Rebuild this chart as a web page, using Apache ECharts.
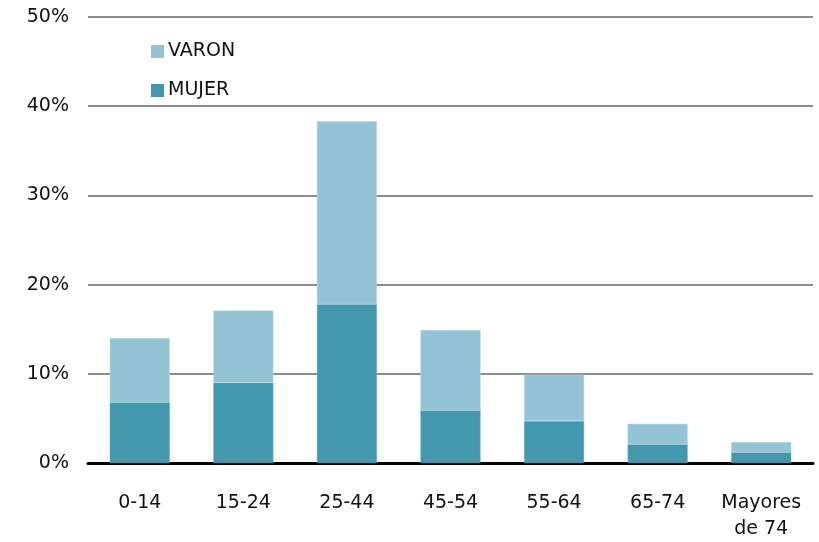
<!DOCTYPE html>
<html>
<head>
<meta charset="utf-8">
<script src="https://cdn.jsdelivr.net/npm/echarts@6/dist/echarts.min.js"></script>
<style>
html, body { margin: 0; padding: 0; background: #fff; }
#chart { width: 819px; height: 542px; }
</style>
</head>
<body>
<div id="chart"></div>
<script>
var categories = ["0-14", "15-24", "25-44", "45-54", "55-64", "65-74", "Mayores\nde 74"];
var mujer = [6.8, 9.0, 17.8, 5.9, 4.7, 2.1, 1.2];
var varon = [7.2, 8.1, 20.5, 9.0, 5.2, 2.3, 1.15];

var chart = echarts.init(document.getElementById("chart"));
var font = "DejaVu Sans, Verdana, sans-serif";
var option = {
    backgroundColor: "#fff",
    animation: false,
    grid: { left: 88, right: 6, top: 17, bottom: 78 },
    legend: {
        orient: "vertical",
        left: 146,
        top: 37,
        itemWidth: 13,
        itemHeight: 13,
        itemGap: 20,
        icon: "rect",
        data: ["VARON", "MUJER"],
        itemStyle: { borderWidth: 0 },
        textStyle: { fontFamily: font, fontSize: 19, color: "#111", padding: [0, 0, 0, -1] }
    },
    xAxis: {
        type: "category",
        data: categories,
        axisLine: { lineStyle: { color: "#000", width: 3 } },
        axisTick: { show: false },
        axisLabel: { interval: 0, fontFamily: font, fontSize: 19, color: "#111", margin: 27, lineHeight: 26 }
    },
    yAxis: {
        type: "value",
        min: 0,
        max: 50,
        interval: 10,
        axisLine: { show: false },
        axisTick: { show: false },
        splitLine: { lineStyle: { color: "#8c8c8c", width: 2 } },
        axisLabel: { fontFamily: font, fontSize: 19, color: "#111", margin: 19, formatter: "{value}%" }
    },
    series: [
        {
            name: "MUJER",
            type: "bar",
            stack: "t",
            barWidth: "58%",
            data: mujer,
            itemStyle: { color: "#4398b0", borderColor: "#6fb1c4", borderWidth: 0.5 }
        },
        {
            name: "VARON",
            type: "bar",
            stack: "t",
            data: varon,
            itemStyle: { color: "#94c3d5", borderColor: "#b9dae5", borderWidth: 0.5 }
        }
    ]
};
chart.setOption(option);
</script>
</body>
</html>
